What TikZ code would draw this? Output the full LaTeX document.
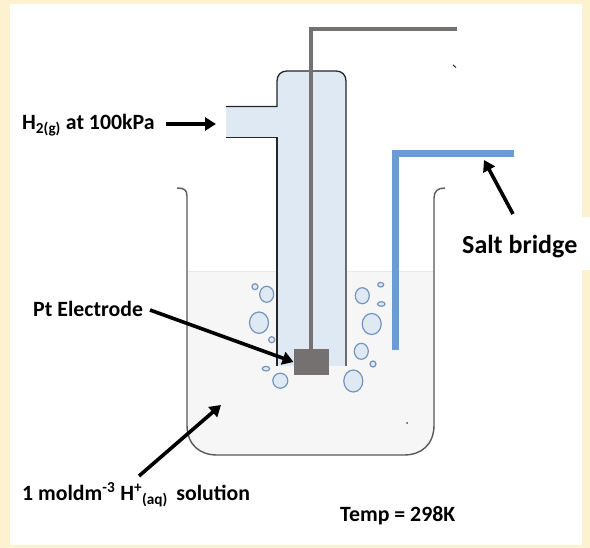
\documentclass[tikz,border=0pt]{standalone}
\usepackage{fontspec}
\setmainfont{Carlito}
\usetikzlibrary{arrows.meta}
\definecolor{cream}{HTML}{FDF2D0}
\definecolor{soln}{HTML}{F6F6F6}
\definecolor{solnline}{HTML}{DEEBF7}
\definecolor{tubefill}{HTML}{DFE9F4}
\definecolor{wiregray}{HTML}{767171}
\definecolor{bridge}{HTML}{6A9BD3}
\definecolor{bubbleline}{HTML}{7594BC}
\definecolor{wallline}{HTML}{595959}
\tikzset{
  lab/.style={font=\bfseries\fontsize{21.8}{26}\selectfont, anchor=west, inner sep=0pt, text=black},
  pointer/.style={draw=black, line width=3.6pt, -{Triangle[length=11pt,width=13pt]}},
  bub/.style={draw=bubbleline, fill=tubefill, line width=1.2pt},
  glass/.style={draw=black!85, line width=1.3pt},
  wire/.style={draw=wiregray, line width=3.5pt, line cap=butt},
  saltb/.style={draw=bridge, line width=7pt, line cap=butt}
}
\begin{document}
\begin{tikzpicture}[x=1pt,y=-1pt]
\useasboundingbox (0,0) rectangle (590,548);
\fill[cream] (0,0) rectangle (590,548);
\fill[white] (10,4) rectangle (582,545);
\fill[white] (582,217) rectangle (590,270);
% solution
\fill[soln] (187,272) -- (187,425) .. controls (187,445) and (200,455) .. (217,455) -- (404,455)
  .. controls (421,455) and (434,445) .. (434,425) -- (434,272) -- cycle;
\draw[solnline,line width=1pt] (187,272) -- (434,272);
% beaker
\draw[draw=wallline,line width=1.4pt] (177,188) .. controls (184,188) and (187,190) .. (187,196) -- (187,425)
  .. controls (187,445) and (200,455) .. (217,455) -- (404,455)
  .. controls (421,455) and (434,445) .. (434,425) -- (434,198)
  .. controls (434,191) and (438,188) .. (445,188);
% tube
\fill[tubefill] (226,107) -- (277,107) -- (277,81) .. controls (277,75) and (281,71) .. (287,71) -- (336,71)
  .. controls (342,71) and (346,75) .. (346,81) -- (346,366) -- (277,366) -- (277,137) -- (226,137) -- cycle;
\draw[glass] (226,106.5) -- (277,106.5) -- (277,81) .. controls (277,75) and (281,71) .. (287,71) -- (336,71)
  .. controls (342,71) and (346,75) .. (346,81) -- (346,366);
\draw[glass] (226,137.5) -- (277,137.5) -- (277,366);
% wire and electrode
\coordinate (wireend) at (457,29);
\node[fill=wiregray, minimum width=35pt, minimum height=26pt, inner sep=0pt, outer sep=0pt] (electrode) at (311,362) {};
\draw[wire] (wireend) -- (311,29) -- (electrode.north);
% salt bridge
\coordinate (bridgeend) at (514,153.5);
\coordinate (bridgefoot) at (395.5,350);
\draw[saltb] (bridgeend) -- (395.5,153.5) -- (bridgefoot);
% stray marks
\draw[black,line width=0.8pt] (453,65) -- (456,67.5);
\fill[black!70] (407,423) circle[radius=1];
% bubbles
\foreach \bx/\by/\rx/\ry in {255/286.7/3/3, 266.7/294.3/7/8, 259/322.7/9.5/10.7, 271.7/339.7/3/3, 266/368.7/3.7/2.3, 280.3/380.7/7.5/7.5,
  362.3/295.7/7/8, 380.7/284.7/3/2.3, 381.3/304/3.7/2.3, 371.7/324/9.5/10.5, 361.3/351.3/7/8, 373/364/3/3, 353.3/381/9.5/11}
  \draw[bub] (\bx,\by) ellipse[x radius=\rx,y radius=\ry];
% labels
\node[lab] (h2) at (22,125) {H\textsubscript{2(g)} at 100kPa};
\node[lab] (pt) at (33,309) {Pt Electrode};
\node[lab] (sol) at (22,495) {1 moldm\textsuperscript{-3} H\textsuperscript{+}\textsubscript{(aq)}\, solution};
\node[lab] (temp) at (340,516) {Temp = 298K};
\node[lab,font=\bfseries\fontsize{26}{30}\selectfont] (salt) at (462,247) {Salt bridge};
% arrows
\coordinate (h2a) at (166,124); \coordinate (h2b) at (216,124);
\coordinate (pta) at (150,310);
\coordinate (salta) at (513,214); \coordinate (saltb) at (484,160);
\coordinate (sola) at (139,476); \coordinate (solb) at (221,405);
\draw[pointer] (h2a) -- (h2b);
\draw[pointer] (pta) -- (electrode.west);
\draw[pointer] (salta) -- (saltb);
\draw[pointer] (sola) -- (solb);
\end{tikzpicture}
\end{document}
